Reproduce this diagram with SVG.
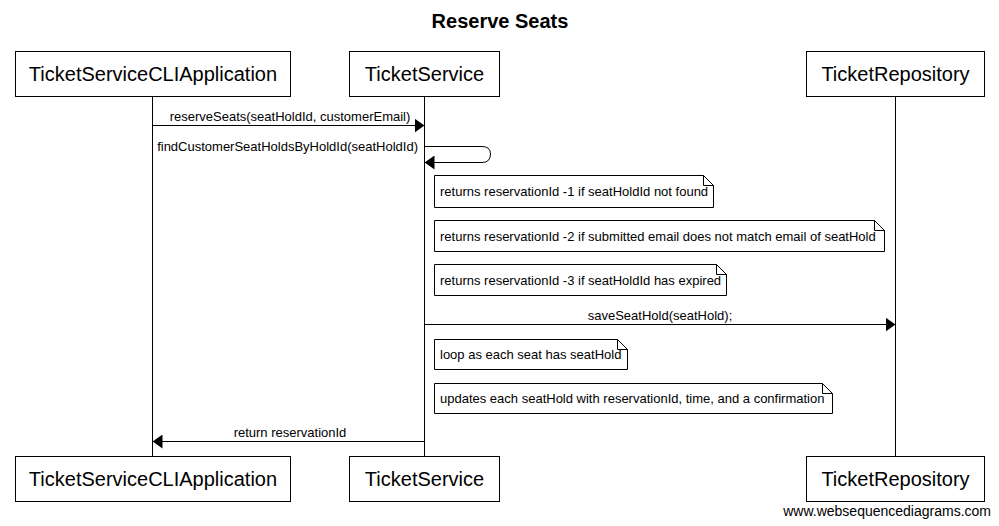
<svg xmlns="http://www.w3.org/2000/svg" width="999" height="526" viewBox="0 0 999 526">
<style>
text{font-family:"Liberation Sans",Arial,sans-serif;fill:#000}
.p rect{fill:#fff;stroke:#000;stroke-width:1}
.p text{font-size:20px;text-anchor:middle}
.life{stroke:#000;stroke-width:1}
.msg{stroke:#000;stroke-width:1;fill:none}
.ml{font-size:13px;text-anchor:middle}
.note path{fill:#fff;stroke:#000;stroke-width:1}
.note text{font-size:13px}
</style>
<defs>
<marker id="ah" markerWidth="10" markerHeight="14" refX="10" refY="7" orient="auto" markerUnits="userSpaceOnUse">
<path d="M0,0 L10,7 L0,14 Z" fill="#000"/>
</marker>
</defs>
<rect width="999" height="526" fill="#fff"/>
<text x="500" y="28" font-size="20" font-weight="bold" text-anchor="middle">Reserve Seats</text>
<g id="lifelines">
<line class="life" x1="152.5" y1="96" x2="152.5" y2="456"/>
<line class="life" x1="424.5" y1="96" x2="424.5" y2="456"/>
<line class="life" x1="895.5" y1="96" x2="895.5" y2="456"/>
</g>
<g id="p1" class="p">
<rect x="15.5" y="51.5" width="275" height="45"/>
<text x="153" y="81">TicketServiceCLIApplication</text>
<rect x="15.5" y="456.5" width="275" height="45"/>
<text x="153" y="486">TicketServiceCLIApplication</text>
</g>
<g id="p2" class="p">
<rect x="349.5" y="51.5" width="150" height="45"/>
<text x="424.5" y="81">TicketService</text>
<rect x="349.5" y="456.5" width="150" height="45"/>
<text x="424.5" y="486">TicketService</text>
</g>
<g id="p3" class="p">
<rect x="806.5" y="51.5" width="178" height="45"/>
<text x="895.5" y="81">TicketRepository</text>
<rect x="806.5" y="456.5" width="178" height="45"/>
<text x="895.5" y="486">TicketRepository</text>
</g>
<g id="connectors">
<line class="msg" x1="152.5" y1="125.5" x2="424.5" y2="125.5" marker-end="url(#ah)"/>
<text class="ml" x="290" y="121">reserveSeats(seatHoldId, customerEmail)</text>
<path class="msg" d="M424.5,146.5 H482 Q490.5,146.5 490.5,154 Q490.5,162.5 482,162.5 H424.5" marker-end="url(#ah)"/>
<text x="418" y="151" font-size="13" text-anchor="end">findCustomerSeatHoldsByHoldId(seatHoldId)</text>
<line class="msg" x1="424.5" y1="324.5" x2="895.5" y2="324.5" marker-end="url(#ah)"/>
<text class="ml" x="660" y="320">saveSeatHold(seatHold);</text>
<line class="msg" x1="424.5" y1="441.5" x2="152.5" y2="441.5" marker-end="url(#ah)"/>
<text class="ml" x="290" y="437">return reservationId</text>
</g>
<g id="n1" class="note">
<path d="M434.5,175.5 H703.5 L713.5,185.5 V207.5 H434.5 Z M703.5,175.5 V185.5 H713.5"/>
<text x="440" y="196">returns reservationId -1 if seatHoldId not found</text>
</g>
<g id="n2" class="note">
<path d="M434.5,220.5 H874.5 L884.5,230.5 V251.5 H434.5 Z M874.5,220.5 V230.5 H884.5"/>
<text x="440" y="241">returns reservationId -2 if submitted email does not match email of seatHold</text>
</g>
<g id="n3" class="note">
<path d="M434.5,264.5 H716.5 L726.5,274.5 V295.5 H434.5 Z M716.5,264.5 V274.5 H726.5"/>
<text x="440" y="285">returns reservationId -3 if seatHoldId has expired</text>
</g>
<g id="n4" class="note">
<path d="M434.5,339.5 H617.5 L627.5,349.5 V369.5 H434.5 Z M617.5,339.5 V349.5 H627.5"/>
<text x="440" y="359">loop as each seat has seatHold</text>
</g>
<g id="n5" class="note">
<path d="M434.5,383.5 H822.5 L832.5,393.5 V413.5 H434.5 Z M822.5,383.5 V393.5 H832.5"/>
<text x="440" y="403">updates each seatHold with reservationId, time, and a confirmation</text>
</g>
<text x="991" y="516" font-size="14" text-anchor="end">www.websequencediagrams.com</text>
</svg>
